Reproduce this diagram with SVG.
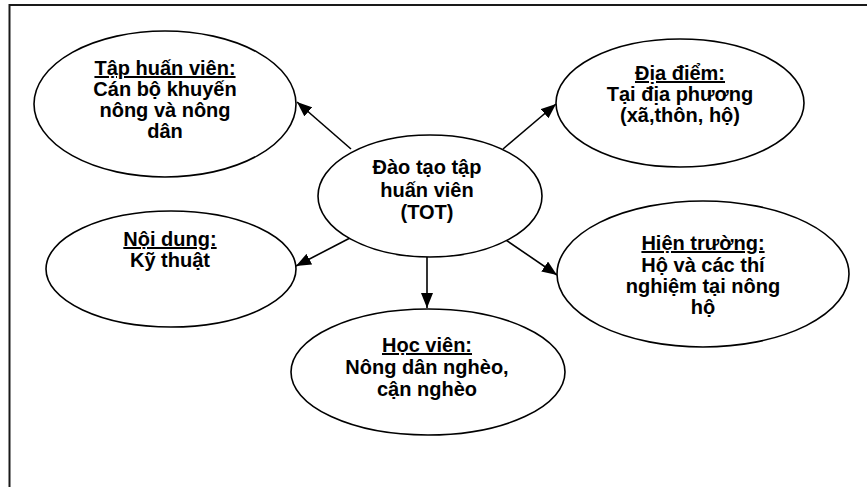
<svg xmlns="http://www.w3.org/2000/svg" width="867" height="487" viewBox="0 0 867 487">
<style>
  .node ellipse { fill: #ffffff; stroke: #000000; stroke-width: 1.6; }
  .node text { font-family: "Liberation Sans", Arial, sans-serif; font-weight: bold; font-size: 20px; fill: #000000; text-anchor: middle; }
  .node .h { text-decoration: underline; }
  .conn line { stroke: #000000; stroke-width: 1.6; }
</style>
<defs>
  <marker id="arr" markerUnits="userSpaceOnUse" markerWidth="16" markerHeight="12" refX="15" refY="6" orient="auto">
    <path d="M0,0 L15,6 L0,12 Z" fill="#000000"/>
  </marker>
</defs>
<rect x="0" y="0" width="867" height="487" fill="#ffffff"/>
<path d="M9.5,487 V5 H867" fill="none" stroke="#1a1a1a" stroke-width="2"/>

<g class="conn" id="connectors">
  <line x1="351" y1="149" x2="297" y2="102" marker-end="url(#arr)"/>
  <line x1="503" y1="149" x2="556" y2="104" marker-end="url(#arr)"/>
  <line x1="350" y1="238" x2="296" y2="266" marker-end="url(#arr)"/>
  <line x1="503" y1="238" x2="557" y2="275" marker-end="url(#arr)"/>
  <line x1="427" y1="257" x2="427" y2="308" marker-end="url(#arr)"/>
</g>

<g class="node" id="center">
  <ellipse cx="430" cy="196" rx="112" ry="61"/>
  <text x="427" y="174">Đào tạo tập</text>
  <text x="427" y="197">huấn viên</text>
  <text x="427" y="219">(TOT)</text>
</g>

<g class="node" id="taphuanvien">
  <ellipse cx="165" cy="104" rx="131" ry="73"/>
  <text x="165" y="75" class="h">Tập huấn viên:</text>
  <text x="165" y="96">Cán bộ khuyến</text>
  <text x="165" y="117">nông và nông</text>
  <text x="165" y="138">dân</text>
</g>

<g class="node" id="diadiem">
  <ellipse cx="680" cy="103" rx="124" ry="64"/>
  <text x="680" y="80" class="h">Địa điểm:</text>
  <text x="680" y="101">Tại địa phương</text>
  <text x="680" y="122">(xã,thôn, hộ)</text>
</g>

<g class="node" id="noidung">
  <ellipse cx="171" cy="269" rx="125" ry="58"/>
  <text x="170" y="246" class="h">Nội dung:</text>
  <text x="170" y="267">Kỹ thuật</text>
</g>

<g class="node" id="hientruong">
  <ellipse cx="703" cy="274" rx="146" ry="73"/>
  <text x="703" y="250" class="h">Hiện trường:</text>
  <text x="703" y="272">Hộ và các thí</text>
  <text x="703" y="293">nghiệm tại nông</text>
  <text x="703" y="314">hộ</text>
</g>

<g class="node" id="hocvien">
  <ellipse cx="428" cy="372" rx="137" ry="63"/>
  <text x="427" y="352" class="h">Học viên:</text>
  <text x="427" y="374">Nông dân nghèo,</text>
  <text x="427" y="396">cận nghèo</text>
</g>
</svg>
